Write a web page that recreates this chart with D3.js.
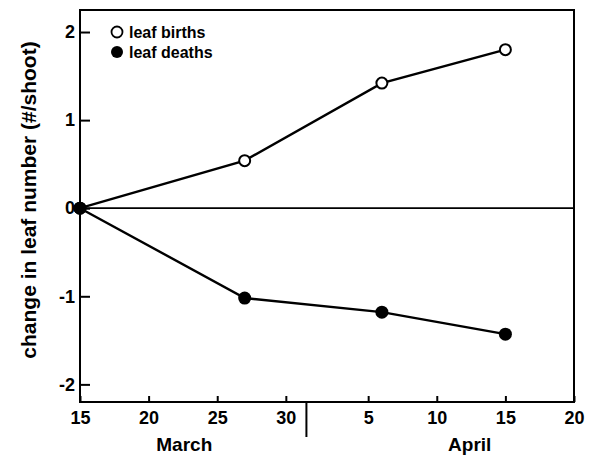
<!DOCTYPE html>
<html><head><meta charset="utf-8">
<script src="https://cdn.jsdelivr.net/npm/d3@7"></script>
<style>body{margin:0;background:#fff}text{font-family:"Liberation Sans",Arial,sans-serif;fill:#000}</style>
</head><body><svg id="c" width="599" height="457"></svg>
<script>
// days since March 15
const days = [0, 12, 22, 31];
const births = [0, 0.54, 1.42, 1.80];
const deaths = [0, -1.02, -1.18, -1.43];
const xTickDays = [0, 5, 10, 15, 21, 26, 31, 36];
const xTickLabels = ["15", "20", "25", "30", "5", "10", "15", "20"];
const yTicks = [-2, -1, 0, 1, 2];
const monthLabels = [{name: "March", day: 7.6}, {name: "April", day: 28.4}];
const monthDivider = 16.5;

const svg = d3.select("#c");
const L = 80, R = 574, T = 10, B = 402;
const x = d3.scaleLinear().domain([0, 36]).range([L, R]);
const y = d3.scaleLinear().domain([-2.2, 2.25]).range([B, T]);

// frame
svg.append("rect").attr("x", L).attr("y", T).attr("width", R - L).attr("height", B - T)
  .attr("fill", "none").attr("stroke", "#000").attr("stroke-width", 2);
// zero line
svg.append("line").attr("x1", L).attr("x2", R).attr("y1", y(0)).attr("y2", y(0))
  .attr("stroke", "#000").attr("stroke-width", 1.8);

// y axis
const ya = svg.append("g").attr("transform", `translate(${L},0)`)
  .call(d3.axisRight(y).tickValues(yTicks).tickSize(10).tickFormat(d3.format("d")));
ya.select(".domain").remove();
ya.selectAll("line").attr("stroke-width", 2);
ya.selectAll("text").attr("x", -5).attr("text-anchor", "end").attr("font-size", 18).attr("font-weight", "bold")
  .attr("font-family", "Liberation Sans, Arial, sans-serif").text(d => d < 0 ? "-" + Math.abs(d) : d);

// x axis
const xa = svg.append("g").attr("transform", `translate(0,${B})`)
  .call(d3.axisTop(x).tickValues(xTickDays).tickSize(6).tickFormat((d, i) => xTickLabels[i]));
xa.select(".domain").remove();
xa.selectAll("line").attr("stroke-width", 2);
xa.selectAll("text").attr("y", 22).attr("dy", 0).attr("font-size", 18).attr("font-weight", "bold")
  .attr("font-family", "Liberation Sans, Arial, sans-serif");

// month divider
svg.append("line").attr("x1", x(monthDivider)).attr("x2", x(monthDivider)).attr("y1", B).attr("y2", 437)
  .attr("stroke", "#000").attr("stroke-width", 2);
svg.selectAll(".month").data(monthLabels).enter().append("text")
  .attr("x", d => x(d.day)).attr("y", 451).attr("text-anchor", "middle")
  .attr("font-size", 19).attr("font-weight", "bold").text(d => d.name);

// y label
svg.append("text").attr("transform", "translate(36,200) rotate(-90)").attr("text-anchor", "middle")
  .attr("font-size", 21).attr("font-weight", "bold").text("change in leaf number (#/shoot)");

const line = d3.line().x((d, i) => x(days[i])).y(d => y(d));
svg.append("path").datum(births).attr("d", line).attr("fill", "none").attr("stroke", "#000").attr("stroke-width", 2.4);
svg.append("path").datum(deaths).attr("d", line).attr("fill", "none").attr("stroke", "#000").attr("stroke-width", 2.4);

svg.selectAll(".b").data(births).enter().append("circle")
  .attr("cx", (d, i) => x(days[i])).attr("cy", d => y(d)).attr("r", 5.5)
  .attr("fill", "#fff").attr("stroke", "#000").attr("stroke-width", 2);
svg.selectAll(".d").data(deaths).enter().append("circle")
  .attr("cx", (d, i) => x(days[i])).attr("cy", d => y(d)).attr("r", 6.5).attr("fill", "#000");

// legend
svg.append("circle").attr("cx", 117).attr("cy", 32).attr("r", 5.5).attr("fill", "#fff").attr("stroke", "#000").attr("stroke-width", 1.8);
svg.append("circle").attr("cx", 117).attr("cy", 52).attr("r", 6).attr("fill", "#000");
svg.append("text").attr("x", 129).attr("y", 38).attr("font-size", 16).attr("font-weight", "bold").text("leaf births");
svg.append("text").attr("x", 129).attr("y", 58).attr("font-size", 16).attr("font-weight", "bold").text("leaf deaths");
</script></body></html>
